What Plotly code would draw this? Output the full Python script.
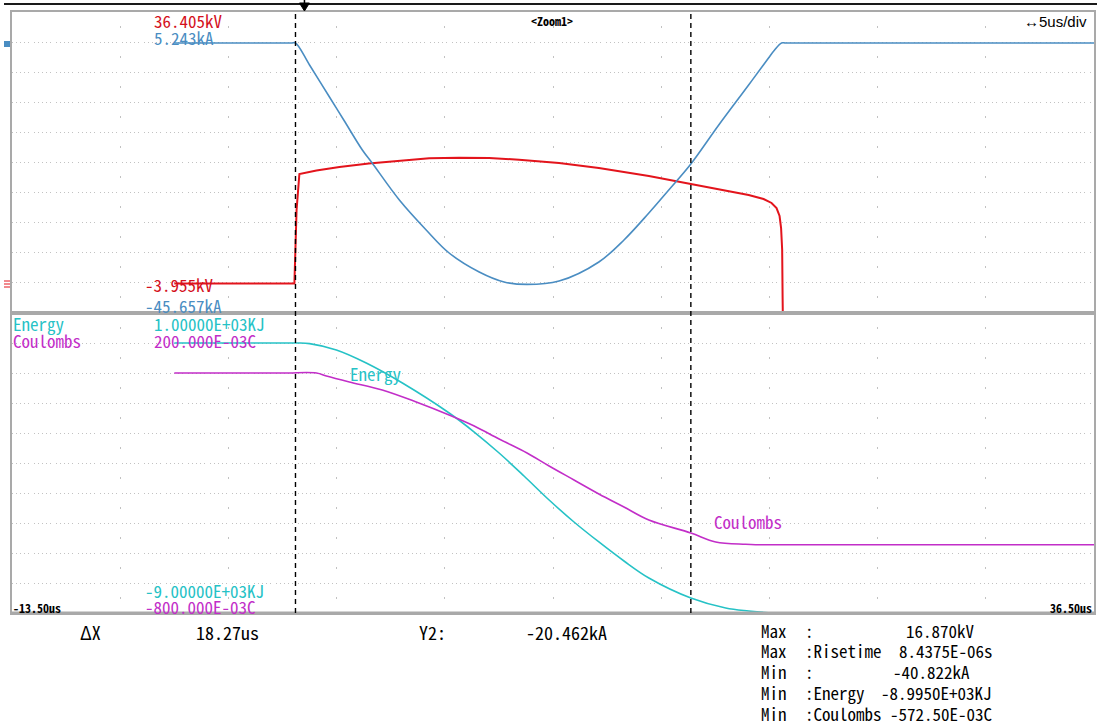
import plotly.graph_objects as go

# ---- acquisition window (microseconds) ----
t_start, t_end = -13.5, 36.5
cursor_t = [-0.40, 17.87]

# ---- CH voltage (kV) ----
t_volt = [-6.0, -0.45, -0.35, -0.22, 0.57, 1.63, 2.99, 4.40, 5.78, 7.16, 8.55, 9.93,
          11.78, 13.62, 15.93, 17.87, 19.16, 20.54, 21.23, 21.60, 21.83, 21.97, 22.04,
          22.09, 22.11, 22.13]
v_kv = [0.0, 0.0, 9.85, 14.68, 15.15, 15.62, 16.09, 16.43, 16.78, 16.87, 16.82, 16.60,
        16.16, 15.49, 14.41, 13.34, 12.67, 11.87, 11.33, 10.80, 10.12, 9.05, 7.44,
        4.49, -1.81, -6.2]

# ---- CH current (kA) ----
t_curr = [-6.0, -0.60, -0.40, 0.25, 1.17, 1.86, 2.69, 3.11, 4.40, 5.64, 6.70, 8.09, 9.24,
          10.30, 11.78, 13.62, 14.78, 15.93, 16.85, 17.87, 19.16, 20.54, 21.46, 21.74,
          22.06, 22.25, 28.0, 32.0, 36.5]
i_ka = [0.0, 0.0, 0.0, -3.72, -9.13, -13.19, -18.09, -20.12, -26.55, -31.62, -35.51,
        -38.72, -40.41, -40.82, -40.25, -37.03, -33.31, -28.75, -24.86, -20.46, -13.87,
        -7.10, -2.53, -1.18, 0.0, 0.0, 0.0, 0.0, 0.0]

# ---- math channel: energy (kJ) ----
t_energy = [-6.0, -1.5, -0.35, 0.25, 1.49, 2.87, 4.54, 6.70, 7.86, 9.01, 10.16, 11.32,
            12.47, 13.62, 14.78, 15.93, 17.87, 19.48, 20.54, 21.46, 22.06, 36.5]
e_kj = [0, 0, 0, -20, -233, -667, -1333, -2333, -2967, -3667, -4433, -5233,
        -5967, -6633, -7267, -7833, -8500, -8833, -8933, -8990, -8995, -8995]

# ---- math channel: charge (C) ----
t_charge = [-6.0, -1.0, 0.57, 1.03, 2.09, 3.61, 5.18, 6.70, 7.86, 9.01, 10.30, 11.32,
            12.47, 13.62, 14.78, 15.93, 17.87, 19.02, 20.40, 20.86, 22.0, 36.5]
q_c = [0.0, 0.0, 0.0, -0.01, -0.03, -0.0567, -0.0967, -0.14, -0.1767, -0.22, -0.2667,
       -0.31, -0.3567, -0.4033, -0.4467, -0.49, -0.5333, -0.5633, -0.571, -0.5725,
       -0.5725, -0.5725]

# ---- vertical scale limits ----
volt_range = [-3.955, 36.405]
curr_range = [-45.657, 5.243]
energy_range = [-9000.0, 1000.0]
charge_range = [-0.8, 0.2]

RED = "#e3141c"
BLUE = "#4a8dc2"
CYAN = "#26c2c6"
MAGENTA = "#c22ec8"
FRAME = "#a9a9a9"
GRID = "#c2c2c2"
MONO = "Noto Sans Mono CJK JP, Noto Sans Mono, DejaVu Sans Mono, monospace"

W, H = 1099, 725
L, R, T, B = 12, 3, 12, 112
PW, PH = W - L - R, H - T - B
split = (H - B - 313) / PH


def fx(px):
    return (px - L) / PW


def fy(py):
    return (H - B - py) / PH


smooth = dict(shape="spline", smoothing=1.0)
fig = go.Figure()
fig.add_trace(go.Scatter(x=t_curr, y=i_ka, xaxis="x", yaxis="y2", mode="lines",
                         line=dict(color=BLUE, width=1.6, **smooth),
                         hoverinfo="skip", showlegend=False))
fig.add_trace(go.Scatter(x=t_volt, y=v_kv, xaxis="x", yaxis="y", mode="lines",
                         line=dict(color=RED, width=2), hoverinfo="skip", showlegend=False))
fig.add_trace(go.Scatter(x=t_energy, y=e_kj, xaxis="x2", yaxis="y3", mode="lines",
                         line=dict(color=CYAN, width=1.6, **smooth),
                         hoverinfo="skip", showlegend=False))
fig.add_trace(go.Scatter(x=t_charge, y=q_c, xaxis="x2", yaxis="y4", mode="lines",
                         line=dict(color=MAGENTA, width=1.6, **smooth),
                         hoverinfo="skip", showlegend=False))

xgrid = dict(range=[t_start, t_end], tickmode="linear", tick0=t_start, dtick=5,
             showticklabels=False, ticks="", showgrid=True, gridcolor=GRID, gridwidth=1,
             griddash="0px,14px,2px,14px", zeroline=False, showline=True, mirror=True,
             linecolor=FRAME, linewidth=2, fixedrange=True)
hdash = "1px,3px,1px,3px,1px,3px,1px,3px,1px,5px"


def ygrid(rng, dom):
    return dict(range=rng, domain=dom, tickmode="linear", tick0=rng[0],
                dtick=(rng[1] - rng[0]) / 10, showticklabels=False, ticks="",
                showgrid=True, gridcolor=GRID, gridwidth=1, griddash=hdash,
                zeroline=False, showline=True, mirror=True, linecolor=FRAME,
                linewidth=2, fixedrange=True)


def yplain(rng, over, anchor):
    return dict(range=rng, overlaying=over, anchor=anchor, showgrid=False,
                showticklabels=False, ticks="", zeroline=False, showline=False,
                fixedrange=True)


fig.update_layout(
    width=W, height=H, autosize=False,
    margin=dict(l=L, r=R, t=T, b=B, pad=0),
    paper_bgcolor="white", plot_bgcolor="white",
    xaxis=dict(xgrid, anchor="y", domain=[0, 1]),
    xaxis2=dict(xgrid, anchor="y3", domain=[0, 1], matches="x"),
    yaxis=dict(ygrid(volt_range, [split, 1]), anchor="x"),
    yaxis2=yplain(curr_range, "y", "x"),
    yaxis3=dict(ygrid(energy_range, [0, split]), anchor="x2"),
    yaxis4=yplain(charge_range, "y3", "x2"),
)

shapes = []
# bottom edge of the screen area drawn over the traces
shapes.append(dict(type="line", xref="paper", yref="paper", x0=0, x1=1,
                   y0=fy(612.6), y1=fy(612.6), line=dict(color=FRAME, width=2)))
# cursors
for ct in cursor_t:
    shapes.append(dict(type="line", xref="x", yref="paper", x0=ct, x1=ct, y0=0, y1=1,
                       line=dict(color="black", width=1.4, dash="5px,4px")))
# top status bar line and trigger marker
shapes.append(dict(type="line", xref="paper", yref="paper", x0=fx(4), x1=fx(W),
                   y0=fy(4), y1=fy(4), line=dict(color="#1a1a1a", width=2)))
shapes.append(dict(type="path", xref="paper", yref="paper",
                   path=f"M{fx(300)},{fy(3)} L{fx(310)},{fy(3)} L{fx(305)},{fy(11)} Z",
                   fillcolor="black", line=dict(color="black", width=1)))
shapes.append(dict(type="line", xref="paper", yref="paper", x0=fx(305), x1=fx(305),
                   y0=fy(0), y1=fy(5), line=dict(color="black", width=1.5)))
# channel zero-level markers at the left edge
shapes.append(dict(type="path", xref="paper", yref="paper",
                   path=f"M{fx(4)},{fy(41)} L{fx(10)},{fy(41)} L{fx(10)},{fy(47)} L{fx(4)},{fy(47)} Z",
                   fillcolor=BLUE, line=dict(color=BLUE, width=0)))
for yy in (281, 284, 287):
    shapes.append(dict(type="line", xref="paper", yref="paper", x0=fx(4), x1=fx(10),
                       y0=fy(yy), y1=fy(yy), line=dict(color=RED, width=1)))
fig.update_layout(shapes=shapes)

ann = []


def text(s, px, py, color="black", size=17, anchor="left", family=MONO, bold=False):
    if bold:
        s = f"<b>{s}</b>"
    ann.append(dict(text=s, x=fx(px), y=fy(py), xref="paper", yref="paper",
                    xanchor=anchor, yanchor="middle", showarrow=False,
                    font=dict(family=family, size=size, color=color)))


# scale read-outs
text("36.405kV", 152, 21, "#d4101c")
text("5.243kA", 152, 38, BLUE)
text("-3.955kV", 143, 284, "#d4101c")
text("-45.657kA", 143, 305, BLUE)
text("Energy", 11, 323, CYAN)
text("Coulombs", 11, 340, MAGENTA)
text("1.00000E+03KJ", 152, 323, CYAN)
text("200.000E-03C", 152, 340, MAGENTA)
text("-9.00000E+03KJ", 143, 590, CYAN)
text("-800.000E-03C", 143, 606, MAGENTA)
# trace labels
text("Energy", 349, 373, CYAN)
text("Coulombs", 713, 521, MAGENTA)
# header / time axis
text("&lt;Zoom1&gt;", 553, 21, size=12, anchor="center", bold=True)
text("\u21945us/div", 1091, 22, size=15, anchor="right", family="Liberation Sans, Arial")
text("-13.50us", 11, 607, size=12, bold=True)
text("36.50us", 1096, 607, size=12, anchor="right", bold=True)
# cursor read-outs
text("\u0394X", 78, 632, size=18)
text("18.27us", 194, 632, size=18)
text("Y2:", 418, 632, size=18)
text("-20.462kA", 525, 632, size=18)
# measurement table
rows = [("Max", ":", "16.870kV", 906), ("Max", ":Risetime", "8.4375E-06s", 899),
        ("Min", ":", "-40.822kA", 893), ("Min", ":Energy", "-8.9950E+03KJ", 881),
        ("Min", ":Coulombs", "-572.50E-03C", 890)]
for k, (a, b, c, vx) in enumerate(rows):
    yy = 630 + k * 20.8
    text(a, 760, yy, size=17)
    text(b, 804, yy, size=17)
    text(c, vx, yy, size=17)
fig.update_layout(annotations=ann)

fig.write_html("out.html")
